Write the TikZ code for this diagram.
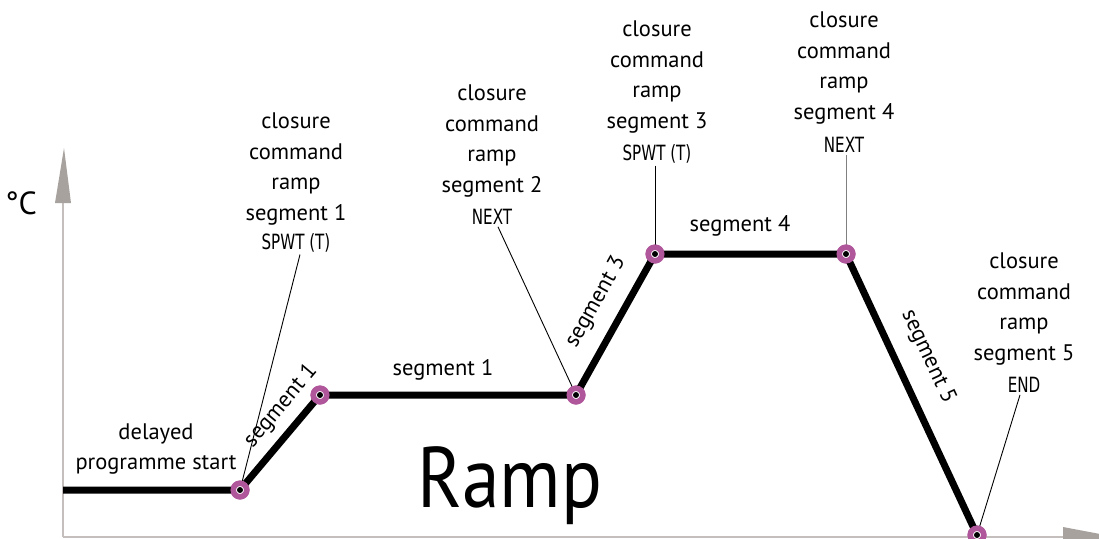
\documentclass[tikz,border=0pt]{standalone}
\usepackage{fontspec}
\setmainfont{PT Sans}
\newfontfamily\segfont[FakeStretch=0.72]{DejaVu Sans}
\definecolor{markc}{HTML}{B0569B}
\definecolor{axisline}{HTML}{C4BFBC}
\definecolor{axishead}{HTML}{A8A29E}
\tikzset{
  lbl/.style={align=center, font=\fontsize{22.5}{30.5}\selectfont, inner sep=0pt},
  code/.style={font=\segfont\fontsize{21}{22}\selectfont, inner sep=2pt},
  seglbl/.style={font=\fontsize{22.5}{24}\selectfont, inner sep=0pt},
  conn/.style={line width=0.9pt, black},
  ramp/.style={line width=7pt, black},
  dotmark/.style={circle, draw=markc, line width=5.5pt, fill=white, minimum size=13.5pt, inner sep=0pt,
    path picture={\fill[black] (path picture bounding box.center) circle (3pt);}},
}
\begin{document}
\begin{tikzpicture}[x=1pt,y=-1pt]
\useasboundingbox (0,0) rectangle (1099,538);
\clip (0,0) rectangle (1099,538);
% axes
\coordinate (o) at (63,537);
\coordinate (ytop) at (63,203);
\coordinate (xend) at (1063,537);
\draw[axisline, line width=1.8pt] (o) -- (ytop);
\draw[axisline, line width=1.8pt] (o) -- (xend);
\fill[axishead] (64,148) -- (71,203) -- (55,203) -- cycle;
\fill[axishead] (1063,527) -- (1116,537) -- (1063,547) -- cycle;
\node[font=\fontsize{32}{32}\selectfont, inner sep=0pt] (degc) at (21,203) {°C};
% ramp points
\coordinate (p0) at (63,490);
\node[dotmark] (m1) at (240,490) {};
\node[dotmark] (m2) at (320,395) {};
\node[dotmark] (m3) at (576,395) {};
\node[dotmark] (m4) at (655,254) {};
\node[dotmark] (m5) at (846,254) {};
\node[dotmark] (m6) at (977,535) {};
% labels
\node[lbl] (l1) at (296,169) {closure\\command\\ramp\\segment 1};
\node[code] (c1) at (296,243) {SPWT (T)};
\node[lbl] (l2) at (492,141) {closure\\command\\ramp\\segment 2};
\node[code] (c2) at (492,217) {NEXT};
\node[lbl] (l3) at (657,77) {closure\\command\\ramp\\segment 3};
\node[code] (c3) at (657,154) {SPWT (T)};
\node[lbl] (l4) at (844,68) {closure\\command\\ramp\\segment 4};
\node[code] (c4) at (844,145) {NEXT};
\node[lbl] (l5) at (1024,309) {closure\\command\\ramp\\segment 5};
\node[code] (c5) at (1024,385) {END};
% connectors
\draw[conn] ([xshift=4pt]c1.south) -- (m1.center);
\draw[conn] ([xshift=6pt]c2.south) -- (m3.center);
\draw[conn] ([xshift=-2pt]c3.south) -- (m4.center);
\draw[conn, gray] ([xshift=2pt]c4.south) -- (m5.center);
\draw[conn] ([xshift=-4pt]c5.south) -- (m6.center);
% thick ramp
\draw[ramp] (p0) -- (m1.center) -- (m2.center) -- (m3.center) -- (m4.center) -- (m5.center) -- (m6.center);
% redraw markers on top
\foreach \m in {m1,m2,m3,m4,m5,m6}{\node[dotmark] at (\m) {};}
% segment labels
\node[seglbl, rotate=50] (s1a) at (281,406) {segment 1};
\node[seglbl] (s1b) at (443,370) {segment 1};
\node[seglbl, rotate=60.7] (s3) at (596,302) {segment 3};
\node[seglbl] (s4) at (740,226) {segment 4};
\node[seglbl, rotate=-65] (s5) at (928,357) {segment 5};
\node[lbl] (dl) at (156,449) {delayed\\programme start};
\node[font=\fontsize{86}{86}\selectfont, inner sep=0pt, anchor=base, xscale=0.88] (rampt) at (510,507) {Ramp};
\end{tikzpicture}
\end{document}
